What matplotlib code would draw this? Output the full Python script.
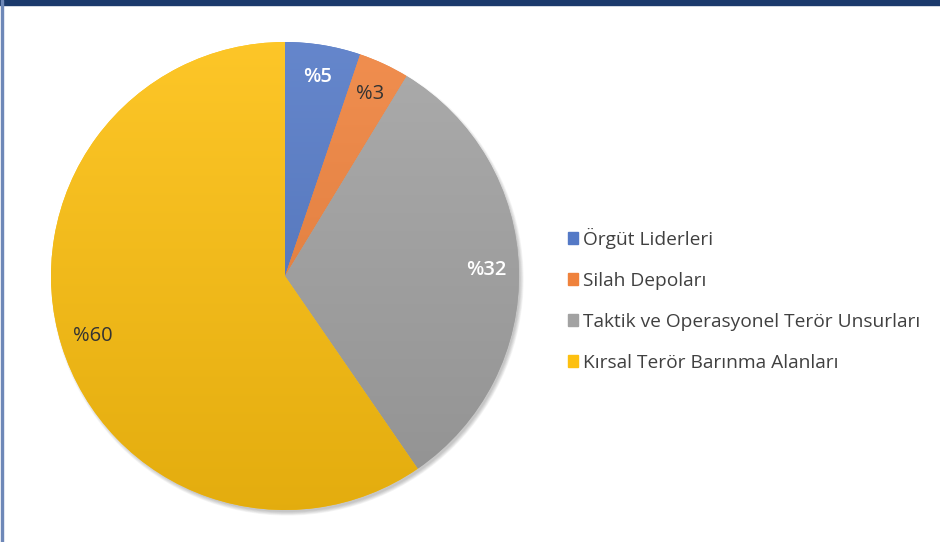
import numpy as np
import matplotlib
matplotlib.use("Agg")
import matplotlib.pyplot as plt
from matplotlib.patches import Rectangle, Circle
from matplotlib.colors import to_rgb

labels = ["Örgüt Liderleri", "Silah Depoları",
          "Taktik ve Operasyonel Terör Unsurları", "Kırsal Terör Barınma Alanları"]
values = [5.2, 3.5, 31.7, 59.6]
pct_labels = ["%5", "%3", "%32", "%60"]
colors = ["#5479C6", "#EF823C", "#A2A2A2", "#FDC010"]
label_colors = ["white", "#333333", "white", "#333333"]

plt.rcParams["font.family"] = ["Open Sans", "DejaVu Sans"]

fig = plt.figure(figsize=(9.4, 5.42), dpi=100)

# pie axes, centre (285, 276) px, radius 234 px
ax = fig.add_axes([51 / 940, 32 / 542, 468 / 940, 468 / 542])

# soft shadow under the pie (bottom-right)
for i in range(6):
    ax.add_patch(Circle((0.01, -0.014), 0.995 + 0.003 * i, color="black",
                        alpha=0.04, lw=0, zorder=0, clip_on=False))

wedges, texts = ax.pie(values, colors=colors, startangle=90, counterclock=False,
                       radius=1.0, labels=pct_labels, labeldistance=0.86,
                       wedgeprops=dict(linewidth=0))

# vertical gradient on each slice
for w, c in zip(wedges, colors):
    rgb = np.array(to_rgb(c))
    top = rgb + (1 - rgb) * 0.1
    bot = rgb * 0.9
    t = np.linspace(0, 1, 256)[:, None]
    img = top[None, :] * (1 - t) + bot[None, :] * t
    img = np.repeat(img[:, None, :], 4, axis=1)
    im = ax.imshow(img, extent=(-1, 1, -1, 1), origin="upper", aspect="auto",
                   zorder=1, interpolation="bilinear")
    im.set_clip_path(w)
    w.set_zorder(0.9)

for t, c in zip(texts, label_colors):
    t.set_color(c)
    t.set_fontsize(14.5)
    t.set_ha("center")
    t.set_va("center")
    t.set_zorder(3)
    if c == "white":
        t.set_fontweight("semibold")

ax.set_xlim(-1, 1)
ax.set_ylim(-1, 1)
ax.set_aspect("equal")
ax.axis("off")

handles = [Rectangle((0, 0), 1, 1, color=c) for c in colors]
fig.legend(handles, labels, loc="center left", bbox_to_anchor=(558 / 940, 1 - 299.5 / 542),
           frameon=False, fontsize=13.8, handlelength=0.55, handleheight=0.55,
           handletextpad=0.25, labelspacing=1.2, borderpad=0, labelcolor="#404040")

# frame: navy band on top, thin line on the left
fig.patches.append(Rectangle((0, 1 - 5 / 542), 1, 5 / 542, transform=fig.transFigure,
                             color="#1B3A6C", zorder=5))
fig.patches.append(Rectangle((1 / 940, 0), 2 / 940, 1, transform=fig.transFigure,
                             color="#6E88B8", zorder=5))

fig.savefig("out.png", dpi=100)
